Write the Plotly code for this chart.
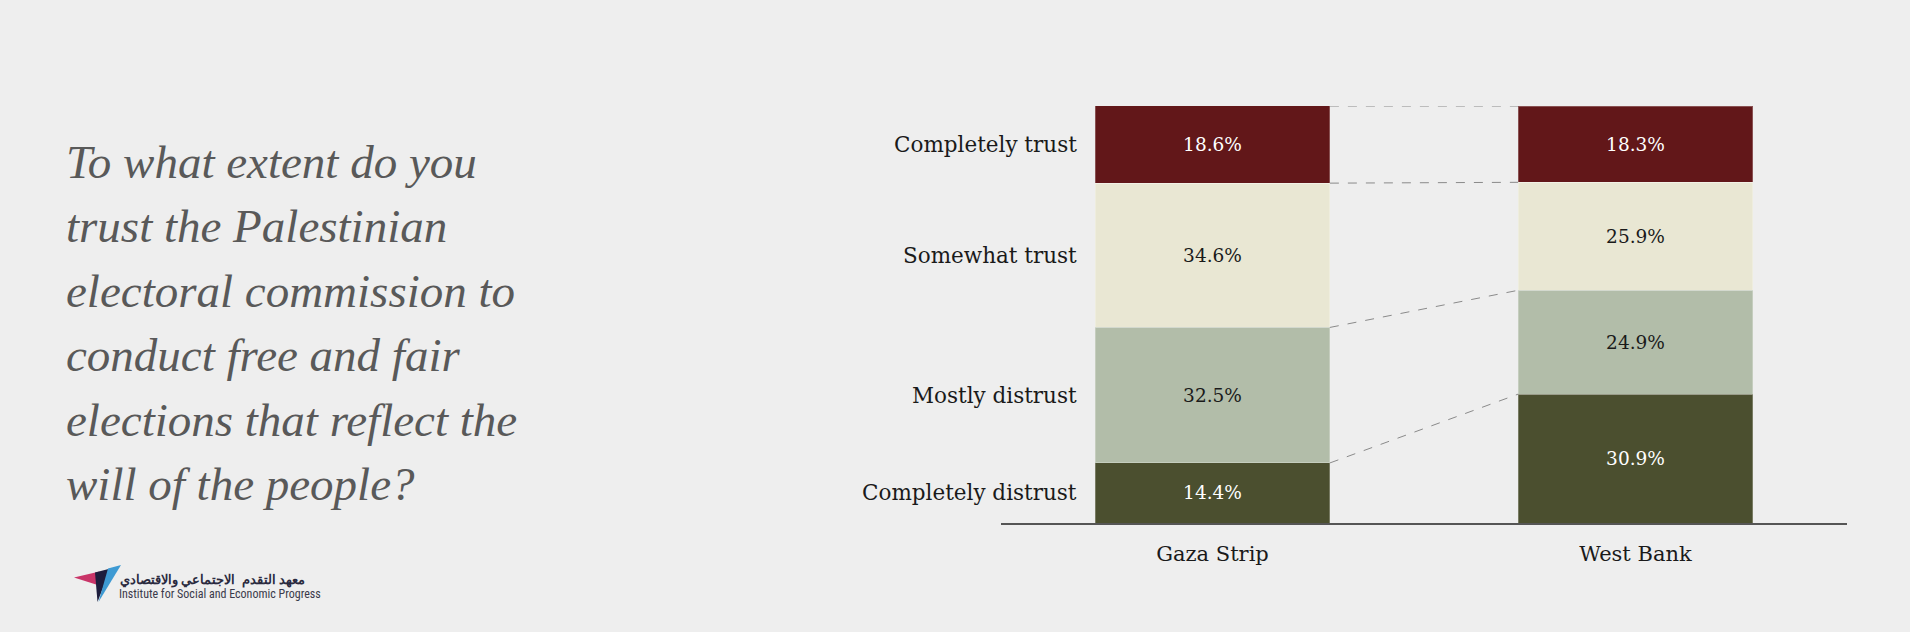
import plotly.graph_objects as go

regions = ["Gaza Strip", "West Bank"]
categories = ["Completely distrust", "Mostly distrust", "Somewhat trust", "Completely trust"]
gaza = [14.4, 32.5, 34.6, 18.6]
west_bank = [30.9, 24.9, 25.9, 18.3]
colors = ["#4B4F2F", "#B2BDA9", "#E9E7D3", "#621719"]
text_colors = ["#FFFFFF", "#1A1A1A", "#1A1A1A", "#FFFFFF"]
title_lines = ["To what extent do you", "trust the Palestinian", "electoral commission to",
               "conduct free and fair", "elections that reflect the", "will of the people?"]

W, H = 1910, 632
ML, MR, MT, MB = 1001, 63, 106, 109
PW, PH = W - ML - MR, H - MT - MB
BAR_W = 0.555
BG = "#EEEEEE"


def px(x):
    return (x - ML) / PW


def py(y):
    return (H - MB - y) / PH


fig = go.Figure()
for i, cat in enumerate(categories):
    fig.add_trace(go.Bar(
        x=regions, y=[gaza[i], west_bank[i]], name=cat, width=BAR_W,
        marker=dict(color=colors[i], line=dict(color="rgba(255,255,255,0.25)", width=1)),
        texttemplate="%{y:.1f}%", textposition="inside", insidetextanchor="middle",
        textfont=dict(family="DejaVu Serif", size=18.5, color=text_colors[i]),
        constraintext="none", hoverinfo="skip",
    ))

shapes = []
annotations = []

# connector lines between bars (cumulative boundaries)
cg, cw = 0.0, 0.0
bounds_g, bounds_w = [], []
for i in range(len(categories)):
    cg += gaza[i]
    cw += west_bank[i]
    bounds_g.append(cg)
    bounds_w.append(cw)
for bg_, bw_ in zip(bounds_g, bounds_w):
    shapes.append(dict(type="line", xref="x", yref="y", x0=BAR_W / 2, x1=1 - BAR_W / 2,
                       y0=min(bg_, 100), y1=min(bw_, 100),
                       line=dict(color="#8A8A8A", width=1, dash="dash")))

# category labels at centres of the Gaza segments
start = 0.0
for i, cat in enumerate(categories):
    mid = start + gaza[i] / 2
    start += gaza[i]
    annotations.append(dict(text=cat, xref="paper", yref="y", x=px(1079), y=mid,
                            xanchor="right", yanchor="middle", showarrow=False,
                            font=dict(family="DejaVu Serif", size=21.5, color="#1A1A1A")))

# question text
for k, line in enumerate(title_lines):
    annotations.append(dict(text="<i>" + line + "</i>", xref="paper", yref="paper",
                            x=px(64), y=py(162 + k * 64.4), xanchor="left", yanchor="middle",
                            showarrow=False,
                            font=dict(family="Liberation Serif", size=47, color="#595959")))

# logo
def poly(points, color):
    path = "M " + " L ".join(f"{px(a)},{py(b)}" for a, b in points) + " Z"
    shapes.append(dict(type="path", xref="paper", yref="paper", path=path,
                       fillcolor=color, line=dict(width=0)))


poly([(74, 577.5), (99.5, 571.5), (96, 584.5)], "#C93468")
poly([(95, 572.5), (110.5, 568.5), (97.5, 602)], "#1D1D3D")
poly([(108, 568.5), (121, 565), (98.5, 602)], "#3E9AD3")

annotations.append(dict(text="<b>معهد التقدم  الاجتماعي والاقتصادي</b>", xref="paper", yref="paper",
                        x=px(118), y=py(579), xanchor="left", yanchor="middle", showarrow=False,
                        font=dict(family="Noto Sans", size=12.5, color="#2A2A3E")))
annotations.append(dict(text="Institute for Social and Economic Progress", xref="paper", yref="paper",
                        x=px(117), y=py(594), xanchor="left", yanchor="middle", showarrow=False,
                        font=dict(family="Roboto Condensed, Liberation Sans Narrow, Roboto", size=12,
                                  color="#3A3A4A")))

fig.update_layout(
    barmode="stack", width=W, height=H, showlegend=False,
    margin=dict(l=ML, r=MR, t=MT, b=MB, pad=0),
    paper_bgcolor=BG, plot_bgcolor=BG,
    shapes=shapes, annotations=annotations,
    uniformtext=dict(mode=False),
    xaxis=dict(range=[-0.5, 1.5], showline=True, linecolor="#555555", linewidth=1.5,
               showgrid=False, zeroline=False, ticks="outside", ticklen=11, tickcolor=BG,
               tickfont=dict(family="DejaVu Serif", size=21, color="#1A1A1A")),
    yaxis=dict(range=[0, 100], visible=False, showgrid=False, zeroline=False),
)

fig.write_html("out.html")
